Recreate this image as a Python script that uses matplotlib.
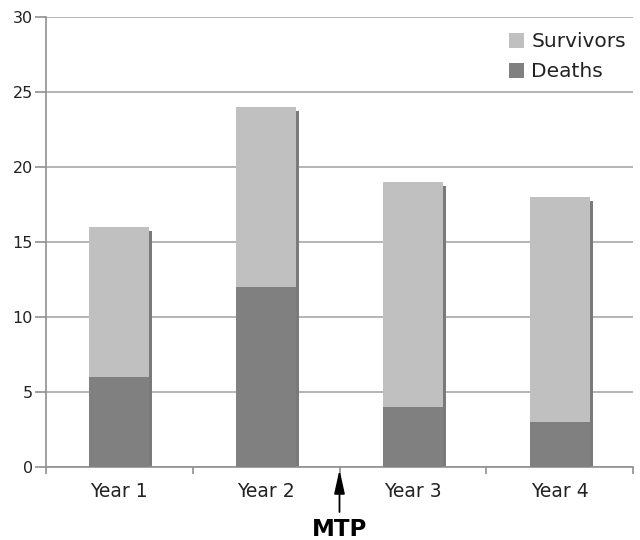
import matplotlib
matplotlib.use("Agg")
import matplotlib.pyplot as plt
import numpy as np

categories = ["Year 1", "Year 2", "Year 3", "Year 4"]
totals = [16, 24, 19, 18]
deaths = [6, 12, 4, 3]
survivors = [t - d for t, d in zip(totals, deaths)]
yticks = [0, 5, 10, 15, 20, 25, 30]

plt.rcParams['font.family'] = ['DejaVu Sans']
fig = plt.figure(figsize=(6.4, 5.4), dpi=100)
ax = fig.add_axes([46 / 640, 73 / 540, 587 / 640, 450 / 540])

x = np.arange(len(categories))
w = 0.41
light = "#c0c0c0"
dark = "#808080"
shadow = "#7a7a7a"

# shadow (offset a few pixels right / down)
dx = 3 / 146.75
ax.bar(x + dx, np.array(totals) - 0.25, width=w, bottom=0, color=shadow, zorder=2)
ax.bar(x, deaths, width=w, color=dark, zorder=3, label="Deaths")
ax.bar(x, survivors, width=w, bottom=deaths, color=light, zorder=3, label="Survivors")

ax.set_xlim(-0.5, len(categories) - 0.5)
ax.set_ylim(0, 30)
ax.set_yticks(yticks)
ax.yaxis.grid(True, color="#a0a0a0", linewidth=1.1, zorder=0)
ax.set_axisbelow(True)
ax.set_xticks(x)
ax.set_xticklabels(categories)
ax.set_xticks(np.arange(-0.5, len(categories)), minor=True)
ax.tick_params(axis='x', which='major', length=0, pad=11, labelsize=13.5, labelcolor="#222222")
ax.tick_params(axis='x', which='minor', length=5, color="#909090", width=1.2)
ax.tick_params(axis='y', length=8, color="#909090", width=1.2, labelsize=11.5, labelcolor="#222222", pad=1.5)
for s in ["top", "right"]:
    ax.spines[s].set_visible(False)
for s in ["left", "bottom"]:
    ax.spines[s].set_color("#909090")
    ax.spines[s].set_linewidth(1.2)

handles, labels = ax.get_legend_handles_labels()
leg = ax.legend(handles[::-1], labels[::-1], loc="upper right", bbox_to_anchor=(0.995, 0.975),
                frameon=True, fontsize=14.5, handlelength=0.75, handleheight=0.75,
                handletextpad=0.35, labelspacing=0.55, borderaxespad=0.0, borderpad=0.2,
                facecolor="white", edgecolor="white", framealpha=1)
for t in leg.get_texts():
    t.set_color("#222222")

ax.annotate("", xy=(1.5, -0.006), xycoords=("data", "axes fraction"),
            xytext=(1.5, -0.10), textcoords=("data", "axes fraction"),
            arrowprops=dict(arrowstyle="-|>,head_length=0.9,head_width=0.2", color="black",
                            lw=1.3, mutation_scale=16, shrinkA=0, shrinkB=0),
            annotation_clip=False)
ax.text(1.5, -0.113, "MTP", transform=ax.get_xaxis_transform(), ha="center", va="top",
        fontsize=16.5, fontweight="bold", color="black")

fig.savefig("out.png", dpi=100)
